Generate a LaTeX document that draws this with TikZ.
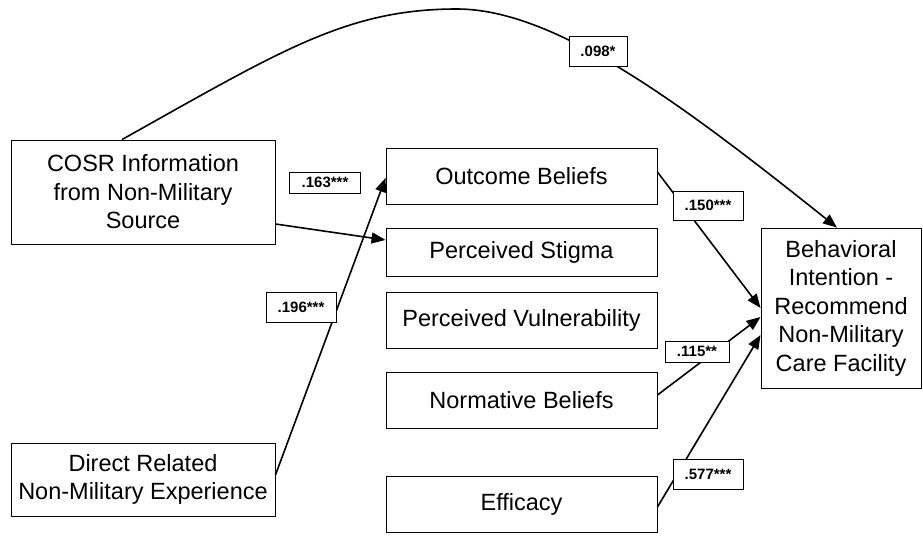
\documentclass[tikz,border=0pt]{standalone}
\usepackage{fontspec}
\setmainfont{Liberation Sans}
\usetikzlibrary{arrows.meta}
\begin{document}
\begin{tikzpicture}[x=1pt,y=-1pt,
  box/.style={draw=black,line width=0.9pt,fill=white,align=center,inner sep=0pt,
    font=\fontsize{23.5}{28.5}\selectfont},
  coef/.style={draw=black,line width=0.9pt,fill=white,inner sep=0pt,
    font=\fontsize{15}{18}\selectfont\bfseries},
  conn/.style={line width=1.6pt,-{Triangle[length=14pt,width=11pt]}},
  plain/.style={line width=1.6pt}]
\useasboundingbox (0,0) rectangle (923,539);
\fill[white] (0,0) rectangle (923,539);
% boxes
\node[box,minimum width=264pt,minimum height=104pt] (cosr) at (143,192) {COSR Information\\from Non-Military\\Source};
\node[box,minimum width=264pt,minimum height=73pt] (direct) at (143,479.5) {Direct Related\\Non-Military Experience};
\node[box,minimum width=271pt,minimum height=56pt] (outcome) at (521.5,176) {Outcome Beliefs};
\node[box,minimum width=271pt,minimum height=48pt] (stigma) at (521.5,252) {Perceived Stigma};
\node[box,minimum width=271pt,minimum height=56pt] (vuln) at (521.5,320) {Perceived Vulnerability};
\node[box,minimum width=271pt,minimum height=56pt] (norm) at (521.5,400) {Normative Beliefs};
\node[box,minimum width=271pt,minimum height=56pt] (eff) at (521.5,504) {Efficacy};
\node[box,minimum width=160pt,minimum height=160pt] (behav) at (841,308) {Behavioral\\Intention -\\Recommend\\Non-Military\\Care Facility};
% connectors
\coordinate (peak) at (457,9);
\draw[conn] ([xshift=-21pt]cosr.north) .. controls (282,50) and (347,9) .. (peak)
  .. controls (557,9) and (687,108) .. ([xshift=-4pt]behav.north);
\draw[conn] ([yshift=-32pt]cosr.east) -- ([yshift=12pt]stigma.west);
\draw[conn] ([yshift=4.5pt]direct.east) -- ([yshift=-2pt]outcome.west);
\draw[conn] ([yshift=4pt]outcome.east) -- (behav.west);
\draw[conn] ([yshift=5pt]norm.east) -- ([yshift=-9pt]behav.west);
\draw[conn] ([yshift=-3pt]eff.east) -- ([yshift=-27pt]behav.west);
% coefficients
\node[coef,minimum width=71pt,minimum height=21pt] (c163) at (325,182.5) {.163***};
\node[coef,minimum width=70pt,minimum height=29pt] (c150) at (708,205.5) {.150***};
\node[coef,minimum width=70pt,minimum height=30pt] (c196) at (301,307) {.196***};
\node[coef,minimum width=64pt,minimum height=21pt] (c115) at (697,351.5) {.115**};
\node[coef,minimum width=70pt,minimum height=30pt] (c577) at (708,474) {.577***};
\node[coef,minimum width=58pt,minimum height=30pt] (c098) at (598,51) {.098*};
\end{tikzpicture}
\end{document}
